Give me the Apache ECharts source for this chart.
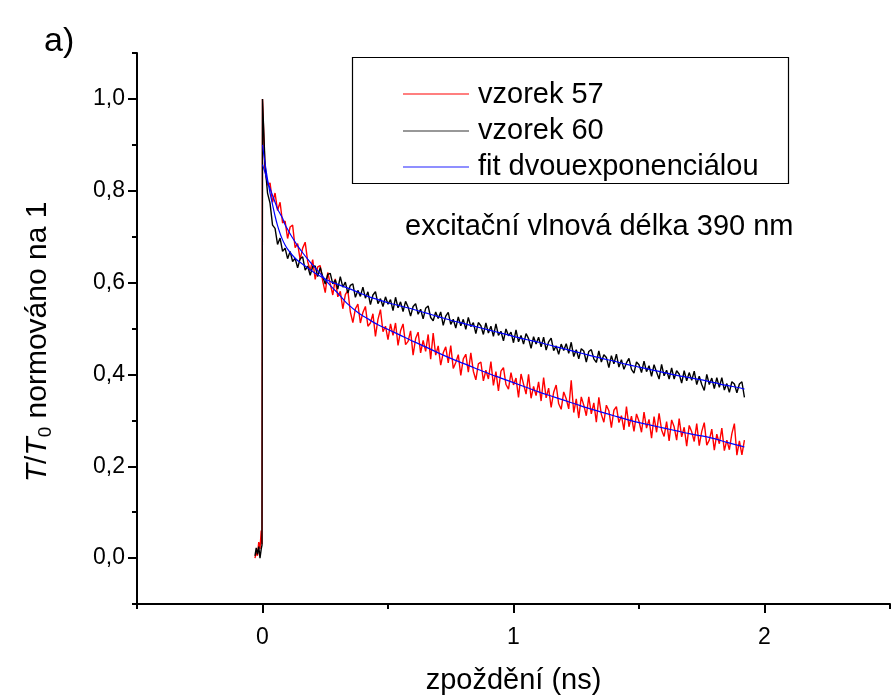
<!DOCTYPE html>
<html>
<head>
<meta charset="utf-8">
<script src="https://cdn.jsdelivr.net/npm/echarts@6/dist/echarts.min.js"></script>
<style>html,body{margin:0;padding:0;background:#fff}#c{width:892px;height:700px}</style>
</head>
<body>
<div id="c"></div>
<script>
// sampling times (ns) of the measured traces
var timeNs = [-0.03,-0.025,-0.02,-0.015,-0.01,-0.005,-0.002,0,
0.01,0.02,0.03,0.04,0.05,0.06,0.07,0.08,0.09,0.10,
0.11,0.12,0.13,0.14,0.15,0.16,0.17,0.18,0.19,0.20,
0.21,0.22,0.23,0.24,0.25,0.26,0.27,0.28,0.29,0.30,
0.31,0.32,0.33,0.34,0.35,0.36,0.37,0.38,0.39,0.40,
0.41,0.42,0.43,0.44,0.45,0.46,0.47,0.48,0.49,0.50,
0.51,0.52,0.53,0.54,0.55,0.56,0.57,0.58,0.59,0.60,
0.61,0.62,0.63,0.64,0.65,0.66,0.67,0.68,0.69,0.70,
0.71,0.72,0.73,0.74,0.75,0.76,0.77,0.78,0.79,0.80,
0.81,0.82,0.83,0.84,0.85,0.86,0.87,0.88,0.89,0.90,
0.91,0.92,0.93,0.94,0.95,0.96,0.97,0.98,0.99,1.00,
1.01,1.02,1.03,1.04,1.05,1.06,1.07,1.08,1.09,1.10,
1.11,1.12,1.13,1.14,1.15,1.16,1.17,1.18,1.19,1.20,
1.21,1.22,1.23,1.24,1.25,1.26,1.27,1.28,1.29,1.30,
1.31,1.32,1.33,1.34,1.35,1.36,1.37,1.38,1.39,1.40,
1.41,1.42,1.43,1.44,1.45,1.46,1.47,1.48,1.49,1.50,
1.51,1.52,1.53,1.54,1.55,1.56,1.57,1.58,1.59,1.60,
1.61,1.62,1.63,1.64,1.65,1.66,1.67,1.68,1.69,1.70,
1.71,1.72,1.73,1.74,1.75,1.76,1.77,1.78,1.79,1.80,
1.81,1.82,1.83,1.84,1.85,1.86,1.87,1.88,1.89,1.90,
1.91,1.92];

// vzorek 57 (red)
var sample57 = [0.000,0.012,0.005,0.035,0.020,0.060,0.030,1.000,
.845,.812,.817,.775,.795,.757,.775,.730,.734,.696,
.721,.725,.676,.685,.650,.675,.688,.646,.626,.650,
.607,.634,.637,.603,.578,.622,.597,.573,.608,.569,
.581,.543,.574,.583,.536,.513,.543,.553,.512,.535,
.548,.505,.512,.532,.483,.520,.541,.493,.505,.476,
.510,.485,.512,.463,.495,.510,.465,.472,.495,.442,
.478,.492,.447,.474,.450,.487,.433,.490,.442,.462,
.420,.447,.460,.425,.463,.413,.426,.443,.398,.434,
.444,.405,.447,.407,.388,.423,.427,.386,.409,.390,
.428,.376,.406,.364,.407,.415,.378,.368,.404,.377,
.392,.350,.401,.379,.357,.400,.348,.374,.354,.384,
.342,.393,.349,.370,.328,.361,.377,.336,.324,.362,
.347,.325,.387,.317,.347,.305,.351,.333,.310,.351,
.314,.338,.296,.350,.313,.296,.333,.321,.284,.322,
.330,.295,.310,.279,.330,.286,.309,.276,.314,.298,
.274,.318,.283,.302,.261,.308,.274,.315,.279,.265,
.297,.255,.301,.286,.257,.304,.264,.285,.244,.289,
.275,.254,.293,.245,.276,.295,.246,.257,.281,.235,
.270,.249,.283,.234,.257,.236,.271,.293,.224,.255,
.225,.257];

// vzorek 60 (black)
var sample60 = [0.005,0.022,0.008,0.025,0.000,0.020,0.028,1.000,
.858,.795,.773,.725,.718,.683,.697,.668,.675,.652,
.668,.646,.653,.632,.652,.656,.627,.636,.616,.635,
.636,.613,.633,.613,.597,.618,.620,.597,.606,.586,
.613,.590,.601,.577,.594,.597,.568,.583,.570,.590,
.566,.580,.552,.573,.580,.554,.565,.548,.569,.553,
.563,.539,.568,.545,.558,.537,.559,.547,.527,.548,
.554,.531,.542,.521,.544,.549,.524,.517,.536,.522,
.536,.507,.527,.535,.509,.520,.501,.525,.506,.520,
.498,.524,.504,.513,.489,.513,.506,.487,.512,.490,
.505,.483,.510,.485,.494,.473,.499,.484,.492,.469,
.497,.471,.485,.466,.489,.478,.457,.482,.466,.481,
.460,.481,.453,.471,.479,.452,.462,.444,.466,.452,
.467,.446,.470,.439,.454,.434,.456,.451,.427,.450,
.454,.434,.426,.451,.427,.443,.437,.415,.441,.423,
.444,.416,.432,.411,.425,.435,.411,.403,.427,.421,
.404,.429,.406,.419,.396,.421,.405,.390,.422,.397,
.409,.390,.414,.390,.408,.401,.381,.408,.386,.404,
.387,.407,.378,.396,.378,.365,.400,.378,.392,.369,
.393,.372,.393,.366,.380,.361,.384,.379,.360,.379,
.384,.350];

// biexponential fits
var fitTimeNs = [0,0.01,0.02,0.03,0.04,0.05,0.06,0.07,0.08,0.09,0.10,
0.12,0.14,0.16,0.18,0.20,0.22,0.24,0.26,0.28,0.30,
0.34,0.38,0.42,0.46,0.50,
0.55,0.60,0.65,0.70,0.75,0.80,0.85,0.90,0.95,1.00,
1.05,1.10,1.15,1.20,1.25,1.30,1.35,1.40,1.45,1.50,
1.55,1.60,1.65,1.70,1.75,1.80,1.85,1.90,1.92];
var fit57 = [.857,.840,.820,.805,.790,.775,.760,.750,.740,.726,.716,
.697,.680,.665,.651,.638,.626,.613,.600,.588,.577,
.553,.535,.521,.508,.498,
.485,.472,.460,.447,.435,.424,.413,.402,.392,.382,
.372,.362,.353,.344,.335,.326,.318,.310,.302,.295,
.289,.283,.277,.271,.266,.260,.252,.245,.242];
var fit60 = [.900,.860,.825,.795,.770,.745,.724,.707,.693,.682,.673,
.659,.648,.640,.632,.624,.617,.611,.605,.600,.596,
.588,.579,.570,.563,.556,
.549,.542,.534,.526,.518,.511,.504,.497,.490,.483,
.476,.470,.463,.456,.449,.442,.435,.429,.422,.416,
.410,.404,.398,.393,.388,.382,.376,.371,.368];

var yMajorTicks = [0, 0.2, 0.4, 0.6, 0.8, 1.0];
var yMinorTicks = [-0.1, 0.1, 0.3, 0.5, 0.7, 0.9, 1.1];
var xMajorTicks = [0, 1, 2];
var xMinorTicks = [-0.5, 0.5, 1.5, 2.5];
var legendNames = ['vzorek 57', 'vzorek 60', 'fit dvouexponenciálou'];

function pairs(xs, ys) { return xs.map(function (x, i) { return [x, ys[i]]; }); }

var FONT = '"Liberation Sans", Arial, sans-serif';
var chart = echarts.init(document.getElementById('c'));
var axisLineStyle = { color: '#000', width: 2 };

chart.setOption({
  animation: false,
  backgroundColor: '#fff',
  grid: { left: 137, right: 2, top: 53, bottom: 94, containLabel: false },
  xAxis: [{
    type: 'value', min: -0.5, max: 2.5, position: 'bottom',
    axisLine: { show: true, onZero: false, lineStyle: axisLineStyle },
    axisTick: { show: true, length: 9, lineStyle: { color: '#000', width: 2 }, customValues: xMajorTicks },
    axisLabel: { customValues: xMajorTicks, fontSize: 23, color: '#000', fontFamily: FONT, margin: 22 },
    splitLine: { show: false },
    name: 'zpoždění (ns)', nameLocation: 'middle', nameGap: 62,
    nameTextStyle: { fontSize: 29, color: '#000', fontFamily: FONT }
  }, {
    type: 'value', min: -0.5, max: 2.5, position: 'bottom',
    axisLine: { show: false, onZero: false },
    axisTick: { show: true, length: 5, lineStyle: { color: '#000', width: 2 }, customValues: xMinorTicks },
    axisLabel: { show: false },
    splitLine: { show: false }
  }],
  yAxis: [{
    type: 'value', min: -0.1, max: 1.1, position: 'left',
    axisLine: { show: true, onZero: false, lineStyle: axisLineStyle },
    axisTick: { show: true, length: 9, lineStyle: { color: '#000', width: 2 }, customValues: yMajorTicks },
    axisLabel: { customValues: yMajorTicks, fontSize: 23, color: '#000', fontFamily: FONT, margin: 12,
      formatter: function (v) { return v.toFixed(1).replace('.', ','); } },
    splitLine: { show: false }
  }, {
    type: 'value', min: -0.1, max: 1.1, position: 'left',
    axisLine: { show: false, onZero: false },
    axisTick: { show: true, length: 5, lineStyle: { color: '#000', width: 2 }, customValues: yMinorTicks },
    axisLabel: { show: false },
    splitLine: { show: false }
  }],
  series: [
    { name: legendNames[0], type: 'line', data: pairs(timeNs, sample57), showSymbol: false, symbol: 'none',
      lineStyle: { color: '#ff0000', width: 1.4 }, z: 2 },
    { name: legendNames[1], type: 'line', data: pairs(timeNs, sample60), showSymbol: false, symbol: 'none',
      lineStyle: { color: '#000000', width: 1.4 }, z: 3 },
    { name: legendNames[2], type: 'line', data: pairs(fitTimeNs, fit57), showSymbol: false, symbol: 'none', smooth: 0.3,
      lineStyle: { color: '#0000ff', width: 1.2 }, z: 4 },
    { name: legendNames[2] + ' ', type: 'line', data: pairs(fitTimeNs, fit60), showSymbol: false, symbol: 'none', smooth: 0.3,
      lineStyle: { color: '#0000ff', width: 1.2 }, z: 4 }
  ],
  graphic: [
    { type: 'text', left: 44, top: 25, style: { text: 'a)', fontSize: 34, fontFamily: FONT, fill: '#000' } },
    { type: 'text', x: 38, y: 342, rotation: Math.PI / 2,
      style: { text: '{it|T}/{it|T}{sub|0} normováno na 1', fontSize: 30, fontFamily: FONT, fill: '#000',
        align: 'center', verticalAlign: 'middle',
        rich: {
          it: { fontStyle: 'italic', fontSize: 30, fontFamily: FONT, fill: '#000' },
          sub: { fontSize: 19, fontFamily: FONT, fill: '#000', verticalAlign: 'bottom', padding: [16, 0, 0, 0] }
        } } },
    { type: 'rect', shape: { x: 352.5, y: 57.5, width: 436, height: 126 }, style: { fill: 'none', stroke: '#000', lineWidth: 1.2 }, z: 10 },
    { type: 'line', shape: { x1: 403, y1: 94, x2: 469, y2: 94 }, style: { stroke: '#ff0000', lineWidth: 1.2 }, z: 10 },
    { type: 'line', shape: { x1: 403, y1: 131, x2: 469, y2: 131 }, style: { stroke: '#333333', lineWidth: 1.2 }, z: 10 },
    { type: 'line', shape: { x1: 403, y1: 167, x2: 469, y2: 167 }, style: { stroke: '#6a6aff', lineWidth: 1.6 }, z: 10 },
    { type: 'text', x: 478, y: 95, style: { text: legendNames[0], fontSize: 29, fontFamily: FONT, fill: '#000', verticalAlign: 'middle' }, z: 10 },
    { type: 'text', x: 478, y: 131, style: { text: legendNames[1], fontSize: 29, fontFamily: FONT, fill: '#000', verticalAlign: 'middle' }, z: 10 },
    { type: 'text', x: 478, y: 167, style: { text: legendNames[2], fontSize: 29, fontFamily: FONT, fill: '#000', verticalAlign: 'middle' }, z: 10 },
    { type: 'text', x: 405, y: 227, style: { text: 'excitační vlnová délka 390 nm', fontSize: 29, fontFamily: FONT, fill: '#000', verticalAlign: 'middle' }, z: 10 }
  ]
});
</script>
</body>
</html>
